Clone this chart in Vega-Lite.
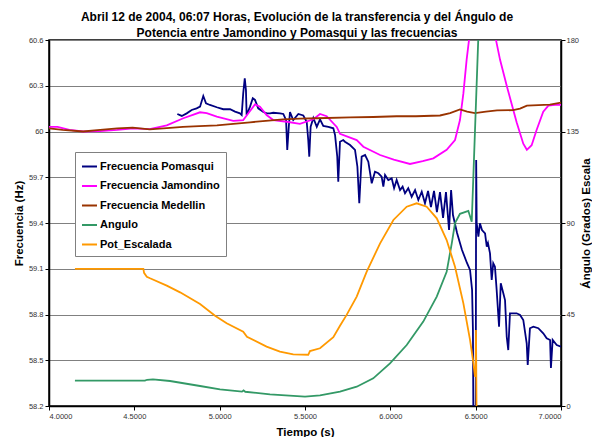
{
  "$schema": "https://vega.github.io/schema/vega-lite/v6.json",
  "width": 512,
  "height": 366,
  "autosize": {"type": "none"},
  "padding": {"left": 49, "top": 40, "right": 31, "bottom": 31},
  "background": "#ffffff",
  "title": {
    "text": ["Abril 12 de 2004, 06:07 Horas, Evolución de la transferencia y del Ángulo de", "Potencia entre Jamondino y Pomasqui y las frecuencias"],
    "font": "Liberation Sans",
    "fontSize": 12,
    "fontWeight": "bold",
    "color": "#000000",
    "anchor": "middle",
    "dx": -8,
    "offset": -4,
    "lineHeight": 16
  },
  "config": {
    "font": "Liberation Sans",
    "view": {"stroke": "#000000", "strokeWidth": 1.5},
    "axis": {
      "domainColor": "#000000",
      "domainWidth": 1.5,
      "tickColor": "#000000",
      "tickSize": 4,
      "labelFont": "Liberation Sans",
      "labelFontSize": 7.5,
      "labelColor": "#333333",
      "titleFont": "Liberation Sans",
      "titleFontSize": 11.5,
      "titleFontWeight": "bold",
      "titleColor": "#000000"
    },
    "legend": {
      "orient": "none",
      "legendX": 26,
      "legendY": 112,
      "title": null,
      "symbolType": "stroke",
      "symbolSize": 225,
      "symbolStrokeWidth": 2,
      "labelFont": "Liberation Sans",
      "labelFontSize": 11,
      "labelFontWeight": "bold",
      "labelColor": "#000000",
      "labelOffset": 2,
      "strokeColor": "#808080",
      "fillColor": "#ffffff",
      "padding": 6,
      "rowPadding": 5.5
    }
  },
  "datasets": {
    "freq": [
      {"t": 4.752, "v": 60.115, "s": "Frecuencia Pomasqui"},
      {"t": 4.778, "v": 60.102, "s": "Frecuencia Pomasqui"},
      {"t": 4.807, "v": 60.119, "s": "Frecuencia Pomasqui"},
      {"t": 4.836, "v": 60.141, "s": "Frecuencia Pomasqui"},
      {"t": 4.865, "v": 60.152, "s": "Frecuencia Pomasqui"},
      {"t": 4.885, "v": 60.163, "s": "Frecuencia Pomasqui"},
      {"t": 4.904, "v": 60.233, "s": "Frecuencia Pomasqui"},
      {"t": 4.92, "v": 60.185, "s": "Frecuencia Pomasqui"},
      {"t": 4.943, "v": 60.174, "s": "Frecuencia Pomasqui"},
      {"t": 4.983, "v": 60.159, "s": "Frecuencia Pomasqui"},
      {"t": 5.021, "v": 60.146, "s": "Frecuencia Pomasqui"},
      {"t": 5.061, "v": 60.146, "s": "Frecuencia Pomasqui"},
      {"t": 5.09, "v": 60.13, "s": "Frecuencia Pomasqui"},
      {"t": 5.119, "v": 60.119, "s": "Frecuencia Pomasqui"},
      {"t": 5.129, "v": 60.108, "s": "Frecuencia Pomasqui"},
      {"t": 5.138, "v": 60.25, "s": "Frecuencia Pomasqui"},
      {"t": 5.147, "v": 60.349, "s": "Frecuencia Pomasqui"},
      {"t": 5.154, "v": 60.272, "s": "Frecuencia Pomasqui"},
      {"t": 5.158, "v": 60.108, "s": "Frecuencia Pomasqui"},
      {"t": 5.178, "v": 60.163, "s": "Frecuencia Pomasqui"},
      {"t": 5.194, "v": 60.218, "s": "Frecuencia Pomasqui"},
      {"t": 5.207, "v": 60.207, "s": "Frecuencia Pomasqui"},
      {"t": 5.226, "v": 60.152, "s": "Frecuencia Pomasqui"},
      {"t": 5.256, "v": 60.128, "s": "Frecuencia Pomasqui"},
      {"t": 5.276, "v": 60.119, "s": "Frecuencia Pomasqui"},
      {"t": 5.295, "v": 60.119, "s": "Frecuencia Pomasqui"},
      {"t": 5.314, "v": 60.123, "s": "Frecuencia Pomasqui"},
      {"t": 5.354, "v": 60.119, "s": "Frecuencia Pomasqui"},
      {"t": 5.373, "v": 60.115, "s": "Frecuencia Pomasqui"},
      {"t": 5.389, "v": 60.075, "s": "Frecuencia Pomasqui"},
      {"t": 5.396, "v": 59.879, "s": "Frecuencia Pomasqui"},
      {"t": 5.405, "v": 60.031, "s": "Frecuencia Pomasqui"},
      {"t": 5.412, "v": 60.128, "s": "Frecuencia Pomasqui"},
      {"t": 5.431, "v": 60.075, "s": "Frecuencia Pomasqui"},
      {"t": 5.461, "v": 60.115, "s": "Frecuencia Pomasqui"},
      {"t": 5.49, "v": 60.105, "s": "Frecuencia Pomasqui"},
      {"t": 5.51, "v": 60.064, "s": "Frecuencia Pomasqui"},
      {"t": 5.519, "v": 59.944, "s": "Frecuencia Pomasqui"},
      {"t": 5.525, "v": 59.835, "s": "Frecuencia Pomasqui"},
      {"t": 5.533, "v": 60.031, "s": "Frecuencia Pomasqui"},
      {"t": 5.549, "v": 60.089, "s": "Frecuencia Pomasqui"},
      {"t": 5.569, "v": 60.031, "s": "Frecuencia Pomasqui"},
      {"t": 5.588, "v": 60.08, "s": "Frecuencia Pomasqui"},
      {"t": 5.607, "v": 60.036, "s": "Frecuencia Pomasqui"},
      {"t": 5.637, "v": 60.03, "s": "Frecuencia Pomasqui"},
      {"t": 5.666, "v": 60.021, "s": "Frecuencia Pomasqui"},
      {"t": 5.676, "v": 59.977, "s": "Frecuencia Pomasqui"},
      {"t": 5.689, "v": 59.835, "s": "Frecuencia Pomasqui"},
      {"t": 5.695, "v": 59.671, "s": "Frecuencia Pomasqui"},
      {"t": 5.705, "v": 59.933, "s": "Frecuencia Pomasqui"},
      {"t": 5.724, "v": 59.944, "s": "Frecuencia Pomasqui"},
      {"t": 5.734, "v": 59.933, "s": "Frecuencia Pomasqui"},
      {"t": 5.764, "v": 59.911, "s": "Frecuencia Pomasqui"},
      {"t": 5.793, "v": 59.879, "s": "Frecuencia Pomasqui"},
      {"t": 5.807, "v": 59.769, "s": "Frecuencia Pomasqui"},
      {"t": 5.818, "v": 59.529, "s": "Frecuencia Pomasqui"},
      {"t": 5.832, "v": 59.835, "s": "Frecuencia Pomasqui"},
      {"t": 5.852, "v": 59.846, "s": "Frecuencia Pomasqui"},
      {"t": 5.871, "v": 59.802, "s": "Frecuencia Pomasqui"},
      {"t": 5.891, "v": 59.66, "s": "Frecuencia Pomasqui"},
      {"t": 5.91, "v": 59.736, "s": "Frecuencia Pomasqui"},
      {"t": 5.93, "v": 59.726, "s": "Frecuencia Pomasqui"},
      {"t": 5.949, "v": 59.704, "s": "Frecuencia Pomasqui"},
      {"t": 5.959, "v": 59.638, "s": "Frecuencia Pomasqui"},
      {"t": 5.969, "v": 59.715, "s": "Frecuencia Pomasqui"},
      {"t": 5.988, "v": 59.682, "s": "Frecuencia Pomasqui"},
      {"t": 6.008, "v": 59.693, "s": "Frecuencia Pomasqui"},
      {"t": 6.022, "v": 59.628, "s": "Frecuencia Pomasqui"},
      {"t": 6.037, "v": 59.682, "s": "Frecuencia Pomasqui"},
      {"t": 6.057, "v": 59.616, "s": "Frecuencia Pomasqui"},
      {"t": 6.072, "v": 59.638, "s": "Frecuencia Pomasqui"},
      {"t": 6.086, "v": 59.595, "s": "Frecuencia Pomasqui"},
      {"t": 6.105, "v": 59.628, "s": "Frecuencia Pomasqui"},
      {"t": 6.125, "v": 59.572, "s": "Frecuencia Pomasqui"},
      {"t": 6.145, "v": 59.616, "s": "Frecuencia Pomasqui"},
      {"t": 6.164, "v": 59.551, "s": "Frecuencia Pomasqui"},
      {"t": 6.184, "v": 59.605, "s": "Frecuencia Pomasqui"},
      {"t": 6.203, "v": 59.529, "s": "Frecuencia Pomasqui"},
      {"t": 6.221, "v": 59.61, "s": "Frecuencia Pomasqui"},
      {"t": 6.238, "v": 59.505, "s": "Frecuencia Pomasqui"},
      {"t": 6.256, "v": 59.61, "s": "Frecuencia Pomasqui"},
      {"t": 6.273, "v": 59.472, "s": "Frecuencia Pomasqui"},
      {"t": 6.291, "v": 59.603, "s": "Frecuencia Pomasqui"},
      {"t": 6.309, "v": 59.433, "s": "Frecuencia Pomasqui"},
      {"t": 6.326, "v": 59.603, "s": "Frecuencia Pomasqui"},
      {"t": 6.344, "v": 59.354, "s": "Frecuencia Pomasqui"},
      {"t": 6.356, "v": 59.616, "s": "Frecuencia Pomasqui"},
      {"t": 6.367, "v": 59.452, "s": "Frecuencia Pomasqui"},
      {"t": 6.391, "v": 59.334, "s": "Frecuencia Pomasqui"},
      {"t": 6.42, "v": 59.223, "s": "Frecuencia Pomasqui"},
      {"t": 6.449, "v": 59.138, "s": "Frecuencia Pomasqui"},
      {"t": 6.467, "v": 59.092, "s": "Frecuencia Pomasqui"},
      {"t": 6.479, "v": 58.961, "s": "Frecuencia Pomasqui"},
      {"t": 6.484, "v": 58.698, "s": "Frecuencia Pomasqui"},
      {"t": 6.487, "v": 58.0, "s": "Frecuencia Pomasqui"},
      {"t": 6.5, "v": 58.0, "s": "Frecuencia Pomasqui"},
      {"t": 6.503, "v": 59.813, "s": "Frecuencia Pomasqui"},
      {"t": 6.506, "v": 59.4, "s": "Frecuencia Pomasqui"},
      {"t": 6.516, "v": 59.31, "s": "Frecuencia Pomasqui"},
      {"t": 6.525, "v": 59.398, "s": "Frecuencia Pomasqui"},
      {"t": 6.537, "v": 59.354, "s": "Frecuencia Pomasqui"},
      {"t": 6.555, "v": 59.332, "s": "Frecuencia Pomasqui"},
      {"t": 6.565, "v": 59.245, "s": "Frecuencia Pomasqui"},
      {"t": 6.572, "v": 59.269, "s": "Frecuencia Pomasqui"},
      {"t": 6.584, "v": 59.201, "s": "Frecuencia Pomasqui"},
      {"t": 6.594, "v": 59.026, "s": "Frecuencia Pomasqui"},
      {"t": 6.603, "v": 59.136, "s": "Frecuencia Pomasqui"},
      {"t": 6.613, "v": 59.113, "s": "Frecuencia Pomasqui"},
      {"t": 6.623, "v": 58.961, "s": "Frecuencia Pomasqui"},
      {"t": 6.637, "v": 58.72, "s": "Frecuencia Pomasqui"},
      {"t": 6.647, "v": 59.005, "s": "Frecuencia Pomasqui"},
      {"t": 6.662, "v": 58.939, "s": "Frecuencia Pomasqui"},
      {"t": 6.672, "v": 58.895, "s": "Frecuencia Pomasqui"},
      {"t": 6.682, "v": 58.654, "s": "Frecuencia Pomasqui"},
      {"t": 6.691, "v": 58.567, "s": "Frecuencia Pomasqui"},
      {"t": 6.701, "v": 58.808, "s": "Frecuencia Pomasqui"},
      {"t": 6.721, "v": 58.808, "s": "Frecuencia Pomasqui"},
      {"t": 6.74, "v": 58.808, "s": "Frecuencia Pomasqui"},
      {"t": 6.76, "v": 58.797, "s": "Frecuencia Pomasqui"},
      {"t": 6.779, "v": 58.764, "s": "Frecuencia Pomasqui"},
      {"t": 6.799, "v": 58.611, "s": "Frecuencia Pomasqui"},
      {"t": 6.805, "v": 58.469, "s": "Frecuencia Pomasqui"},
      {"t": 6.818, "v": 58.71, "s": "Frecuencia Pomasqui"},
      {"t": 6.838, "v": 58.72, "s": "Frecuencia Pomasqui"},
      {"t": 6.867, "v": 58.71, "s": "Frecuencia Pomasqui"},
      {"t": 6.896, "v": 58.677, "s": "Frecuencia Pomasqui"},
      {"t": 6.916, "v": 58.644, "s": "Frecuencia Pomasqui"},
      {"t": 6.936, "v": 58.633, "s": "Frecuencia Pomasqui"},
      {"t": 6.941, "v": 58.449, "s": "Frecuencia Pomasqui"},
      {"t": 6.951, "v": 58.633, "s": "Frecuencia Pomasqui"},
      {"t": 6.975, "v": 58.6, "s": "Frecuencia Pomasqui"},
      {"t": 7.0, "v": 58.589, "s": "Frecuencia Pomasqui"},

      {"t": 4.0, "v": 60.03, "s": "Frecuencia Jamondino"},
      {"t": 4.05, "v": 60.03, "s": "Frecuencia Jamondino"},
      {"t": 4.12, "v": 60.01, "s": "Frecuencia Jamondino"},
      {"t": 4.2, "v": 60.0, "s": "Frecuencia Jamondino"},
      {"t": 4.3, "v": 60.003, "s": "Frecuencia Jamondino"},
      {"t": 4.4, "v": 60.01, "s": "Frecuencia Jamondino"},
      {"t": 4.494, "v": 60.02, "s": "Frecuencia Jamondino"},
      {"t": 4.59, "v": 60.016, "s": "Frecuencia Jamondino"},
      {"t": 4.69, "v": 60.04, "s": "Frecuencia Jamondino"},
      {"t": 4.787, "v": 60.087, "s": "Frecuencia Jamondino"},
      {"t": 4.885, "v": 60.126, "s": "Frecuencia Jamondino"},
      {"t": 4.924, "v": 60.12, "s": "Frecuencia Jamondino"},
      {"t": 4.983, "v": 60.097, "s": "Frecuencia Jamondino"},
      {"t": 5.08, "v": 60.07, "s": "Frecuencia Jamondino"},
      {"t": 5.138, "v": 60.075, "s": "Frecuencia Jamondino"},
      {"t": 5.168, "v": 60.12, "s": "Frecuencia Jamondino"},
      {"t": 5.207, "v": 60.178, "s": "Frecuencia Jamondino"},
      {"t": 5.236, "v": 60.163, "s": "Frecuencia Jamondino"},
      {"t": 5.275, "v": 60.108, "s": "Frecuencia Jamondino"},
      {"t": 5.314, "v": 60.075, "s": "Frecuencia Jamondino"},
      {"t": 5.393, "v": 60.064, "s": "Frecuencia Jamondino"},
      {"t": 5.47, "v": 60.05, "s": "Frecuencia Jamondino"},
      {"t": 5.549, "v": 60.08, "s": "Frecuencia Jamondino"},
      {"t": 5.588, "v": 60.115, "s": "Frecuencia Jamondino"},
      {"t": 5.627, "v": 60.1, "s": "Frecuencia Jamondino"},
      {"t": 5.686, "v": 60.03, "s": "Frecuencia Jamondino"},
      {"t": 5.705, "v": 59.985, "s": "Frecuencia Jamondino"},
      {"t": 5.803, "v": 59.944, "s": "Frecuencia Jamondino"},
      {"t": 5.842, "v": 59.9, "s": "Frecuencia Jamondino"},
      {"t": 5.94, "v": 59.846, "s": "Frecuencia Jamondino"},
      {"t": 6.02, "v": 59.815, "s": "Frecuencia Jamondino"},
      {"t": 6.115, "v": 59.787, "s": "Frecuencia Jamondino"},
      {"t": 6.19, "v": 59.805, "s": "Frecuencia Jamondino"},
      {"t": 6.252, "v": 59.824, "s": "Frecuencia Jamondino"},
      {"t": 6.33, "v": 59.88, "s": "Frecuencia Jamondino"},
      {"t": 6.379, "v": 59.944, "s": "Frecuencia Jamondino"},
      {"t": 6.408, "v": 60.075, "s": "Frecuencia Jamondino"},
      {"t": 6.428, "v": 60.25, "s": "Frecuencia Jamondino"},
      {"t": 6.447, "v": 60.47, "s": "Frecuencia Jamondino"},
      {"t": 6.461, "v": 60.6, "s": "Frecuencia Jamondino"},
      {"t": 6.5, "v": 61.2, "s": "Frecuencia Jamondino"},
      {"t": 6.58, "v": 61.2, "s": "Frecuencia Jamondino"},
      {"t": 6.619, "v": 60.6, "s": "Frecuencia Jamondino"},
      {"t": 6.643, "v": 60.47, "s": "Frecuencia Jamondino"},
      {"t": 6.682, "v": 60.3, "s": "Frecuencia Jamondino"},
      {"t": 6.74, "v": 60.06, "s": "Frecuencia Jamondino"},
      {"t": 6.779, "v": 59.92, "s": "Frecuencia Jamondino"},
      {"t": 6.8, "v": 59.88, "s": "Frecuencia Jamondino"},
      {"t": 6.828, "v": 59.91, "s": "Frecuencia Jamondino"},
      {"t": 6.857, "v": 60.01, "s": "Frecuencia Jamondino"},
      {"t": 6.896, "v": 60.13, "s": "Frecuencia Jamondino"},
      {"t": 6.926, "v": 60.17, "s": "Frecuencia Jamondino"},
      {"t": 6.965, "v": 60.175, "s": "Frecuencia Jamondino"},
      {"t": 7.0, "v": 60.175, "s": "Frecuencia Jamondino"},

      {"t": 4.0, "v": 60.02, "s": "Frecuencia Medellin"},
      {"t": 4.08, "v": 60.01, "s": "Frecuencia Medellin"},
      {"t": 4.2, "v": 60.0, "s": "Frecuencia Medellin"},
      {"t": 4.3, "v": 60.01, "s": "Frecuencia Medellin"},
      {"t": 4.4, "v": 60.02, "s": "Frecuencia Medellin"},
      {"t": 4.49, "v": 60.025, "s": "Frecuencia Medellin"},
      {"t": 4.59, "v": 60.014, "s": "Frecuencia Medellin"},
      {"t": 4.69, "v": 60.022, "s": "Frecuencia Medellin"},
      {"t": 4.785, "v": 60.03, "s": "Frecuencia Medellin"},
      {"t": 4.88, "v": 60.035, "s": "Frecuencia Medellin"},
      {"t": 4.984, "v": 60.04, "s": "Frecuencia Medellin"},
      {"t": 5.08, "v": 60.05, "s": "Frecuencia Medellin"},
      {"t": 5.178, "v": 60.06, "s": "Frecuencia Medellin"},
      {"t": 5.27, "v": 60.07, "s": "Frecuencia Medellin"},
      {"t": 5.371, "v": 60.08, "s": "Frecuencia Medellin"},
      {"t": 5.47, "v": 60.085, "s": "Frecuencia Medellin"},
      {"t": 5.57, "v": 60.087, "s": "Frecuencia Medellin"},
      {"t": 5.764, "v": 60.093, "s": "Frecuencia Medellin"},
      {"t": 5.9, "v": 60.095, "s": "Frecuencia Medellin"},
      {"t": 6.037, "v": 60.1, "s": "Frecuencia Medellin"},
      {"t": 6.15, "v": 60.1, "s": "Frecuencia Medellin"},
      {"t": 6.291, "v": 60.105, "s": "Frecuencia Medellin"},
      {"t": 6.35, "v": 60.12, "s": "Frecuencia Medellin"},
      {"t": 6.408, "v": 60.145, "s": "Frecuencia Medellin"},
      {"t": 6.45, "v": 60.13, "s": "Frecuencia Medellin"},
      {"t": 6.496, "v": 60.12, "s": "Frecuencia Medellin"},
      {"t": 6.56, "v": 60.13, "s": "Frecuencia Medellin"},
      {"t": 6.625, "v": 60.138, "s": "Frecuencia Medellin"},
      {"t": 6.719, "v": 60.14, "s": "Frecuencia Medellin"},
      {"t": 6.76, "v": 60.15, "s": "Frecuencia Medellin"},
      {"t": 6.8, "v": 60.17, "s": "Frecuencia Medellin"},
      {"t": 6.935, "v": 60.176, "s": "Frecuencia Medellin"},
      {"t": 7.0, "v": 60.19, "s": "Frecuencia Medellin"}
    ],
    "ang": [
      {"t": 4.152, "v": 12.45, "s": "Angulo"},
      {"t": 4.3, "v": 12.45, "s": "Angulo"},
      {"t": 4.562, "v": 12.45, "s": "Angulo"},
      {"t": 4.575, "v": 12.9, "s": "Angulo"},
      {"t": 4.609, "v": 13.1, "s": "Angulo"},
      {"t": 4.709, "v": 12.3, "s": "Angulo"},
      {"t": 4.885, "v": 9.84, "s": "Angulo"},
      {"t": 5.002, "v": 8.2, "s": "Angulo"},
      {"t": 5.131, "v": 7.05, "s": "Angulo"},
      {"t": 5.14, "v": 7.7, "s": "Angulo"},
      {"t": 5.15, "v": 7.0, "s": "Angulo"},
      {"t": 5.295, "v": 5.7, "s": "Angulo"},
      {"t": 5.5, "v": 4.6, "s": "Angulo"},
      {"t": 5.588, "v": 5.2, "s": "Angulo"},
      {"t": 5.705, "v": 7.05, "s": "Angulo"},
      {"t": 5.803, "v": 9.5, "s": "Angulo"},
      {"t": 5.9, "v": 13.6, "s": "Angulo"},
      {"t": 5.998, "v": 21, "s": "Angulo"},
      {"t": 6.096, "v": 30, "s": "Angulo"},
      {"t": 6.193, "v": 41.5, "s": "Angulo"},
      {"t": 6.272, "v": 53.8, "s": "Angulo"},
      {"t": 6.33, "v": 66, "s": "Angulo"},
      {"t": 6.36, "v": 80, "s": "Angulo"},
      {"t": 6.379, "v": 90, "s": "Angulo"},
      {"t": 6.408, "v": 94.5, "s": "Angulo"},
      {"t": 6.457, "v": 96, "s": "Angulo"},
      {"t": 6.477, "v": 90.6, "s": "Angulo"},
      {"t": 6.515, "v": 180, "s": "Angulo"},
      {"t": 6.53, "v": 200, "s": "Angulo"},

      {"t": 4.152, "v": 67.4, "s": "Pot_Escalada"},
      {"t": 4.553, "v": 67.4, "s": "Pot_Escalada"},
      {"t": 4.557, "v": 65.5, "s": "Pot_Escalada"},
      {"t": 4.573, "v": 63.6, "s": "Pot_Escalada"},
      {"t": 4.592, "v": 62.8, "s": "Pot_Escalada"},
      {"t": 4.69, "v": 59.2, "s": "Pot_Escalada"},
      {"t": 4.768, "v": 55.9, "s": "Pot_Escalada"},
      {"t": 4.885, "v": 50.2, "s": "Pot_Escalada"},
      {"t": 4.973, "v": 44.4, "s": "Pot_Escalada"},
      {"t": 5.041, "v": 40.7, "s": "Pot_Escalada"},
      {"t": 5.138, "v": 36.5, "s": "Pot_Escalada"},
      {"t": 5.16, "v": 34.0, "s": "Pot_Escalada"},
      {"t": 5.275, "v": 29.2, "s": "Pot_Escalada"},
      {"t": 5.353, "v": 26.7, "s": "Pot_Escalada"},
      {"t": 5.431, "v": 25.4, "s": "Pot_Escalada"},
      {"t": 5.519, "v": 25.2, "s": "Pot_Escalada"},
      {"t": 5.529, "v": 27.0, "s": "Pot_Escalada"},
      {"t": 5.588, "v": 28.4, "s": "Pot_Escalada"},
      {"t": 5.666, "v": 33.8, "s": "Pot_Escalada"},
      {"t": 5.705, "v": 39.5, "s": "Pot_Escalada"},
      {"t": 5.744, "v": 44.8, "s": "Pot_Escalada"},
      {"t": 5.803, "v": 53.8, "s": "Pot_Escalada"},
      {"t": 5.861, "v": 66, "s": "Pot_Escalada"},
      {"t": 5.94, "v": 80, "s": "Pot_Escalada"},
      {"t": 6.018, "v": 91.5, "s": "Pot_Escalada"},
      {"t": 6.096, "v": 98, "s": "Pot_Escalada"},
      {"t": 6.154, "v": 99.7, "s": "Pot_Escalada"},
      {"t": 6.213, "v": 98, "s": "Pot_Escalada"},
      {"t": 6.272, "v": 92.3, "s": "Pot_Escalada"},
      {"t": 6.33, "v": 81.6, "s": "Pot_Escalada"},
      {"t": 6.379, "v": 68.5, "s": "Pot_Escalada"},
      {"t": 6.428, "v": 50.5, "s": "Pot_Escalada"},
      {"t": 6.467, "v": 32.5, "s": "Pot_Escalada"},
      {"t": 6.487, "v": 21, "s": "Pot_Escalada"},
      {"t": 6.496, "v": 14.4, "s": "Pot_Escalada"},
      {"t": 6.5, "v": 16, "s": "Pot_Escalada"},
      {"t": 6.502, "v": 37.4, "s": "Pot_Escalada"},
      {"t": 6.505, "v": 0, "s": "Pot_Escalada"},
      {"t": 6.51, "v": -5, "s": "Pot_Escalada"}
    ]
  },
  "layer": [
    {
      "data": {"name": "freq"},
      "mark": {"type": "line", "clip": true, "strokeWidth": 1.8},
      "encoding": {
        "x": {
          "field": "t", "type": "quantitative",
          "scale": {"domain": [4, 7], "nice": false, "zero": false},
          "axis": {
            "title": "Tiempo (s)",
            "values": [4, 4.5, 5, 5.5, 6, 6.5, 7],
            "format": ".4f",
            "grid": false,
            "labelPadding": 2,
            "titleBaseline": "top",
            "titleY": 20
          }
        },
        "y": {
          "field": "v", "type": "quantitative",
          "scale": {"domain": [58.2, 60.6], "nice": false, "zero": false},
          "axis": {
            "title": "Frecuencia (Hz)",
            "values": [58.2, 58.5, 58.8, 59.1, 59.4, 59.7, 60, 60.3, 60.6],
            "format": "~f",
            "grid": true,
            "gridColor": "#808080",
            "gridWidth": 1,
            "labelPadding": 2,
            "titleX": -30,
            "titleY": 183,
            "titleAngle": 270,
            "titleBaseline": "middle",
            "titleAlign": "center"
          }
        },
        "color": {
          "field": "s", "type": "nominal",
          "scale": {
            "domain": ["Frecuencia Pomasqui", "Frecuencia Jamondino", "Frecuencia Medellin", "Angulo", "Pot_Escalada"],
            "range": ["#000080", "#FF00FF", "#993300", "#339966", "#FF9900"]
          },
          "legend": {"labelExpr": "datum.label + '   '"}
        }
      }
    },
    {
      "data": {"name": "ang"},
      "mark": {"type": "line", "clip": true, "strokeWidth": 1.8},
      "encoding": {
        "x": {"field": "t", "type": "quantitative"},
        "y": {
          "field": "v", "type": "quantitative",
          "scale": {"domain": [0, 180], "nice": false, "zero": false},
          "axis": {
            "orient": "right",
            "title": "Ángulo (Grados) Escala",
            "values": [0, 45, 90, 135, 180],
            "grid": false,
            "labelPadding": 1,
            "titleX": 25,
            "titleY": 183,
            "titleAngle": 270,
            "titleBaseline": "middle",
            "titleAlign": "center"
          }
        },
        "color": {
          "field": "s", "type": "nominal",
          "scale": {
            "domain": ["Frecuencia Pomasqui", "Frecuencia Jamondino", "Frecuencia Medellin", "Angulo", "Pot_Escalada"],
            "range": ["#000080", "#FF00FF", "#993300", "#339966", "#FF9900"]
          }
        }
      }
    }
  ],
  "resolve": {"scale": {"y": "independent"}}
}
